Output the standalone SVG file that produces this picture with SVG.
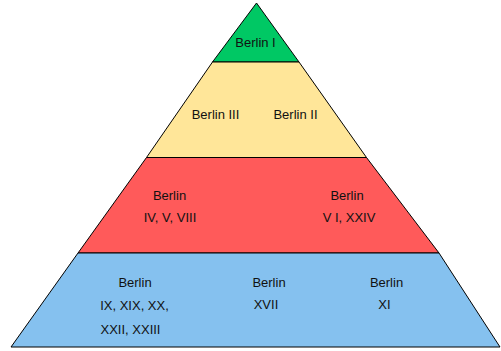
<svg xmlns="http://www.w3.org/2000/svg" width="501" height="351" viewBox="0 0 501 351">
<style>
.tier{stroke:#000;stroke-width:1;stroke-linejoin:miter}
text{font-family:"Liberation Sans",Arial,sans-serif;font-size:13px;fill:#111;text-anchor:middle}
</style>
<rect width="501" height="351" fill="#fff"/>
<g id="tier-green">
<polygon class="tier" fill="#00C864" points="256.5,3 299,62 212.5,62"/>
<text x="255.5" y="46.5">Berlin I</text>
</g>
<g id="tier-yellow">
<polygon class="tier" fill="#FFE699" points="212.5,62 299,62 366.5,157.5 146.5,157.5"/>
<text x="215.5" y="119">Berlin III</text>
<text x="295.5" y="119">Berlin II</text>
</g>
<g id="tier-red">
<polygon class="tier" fill="#FF5A5A" points="146.5,157.5 366.5,157.5 439,253 78,253"/>
<text x="169.5" y="199.5">Berlin</text>
<text x="170" y="221.5">IV, V, VIII</text>
<text x="347" y="199.5">Berlin</text>
<text x="349" y="221.5">V I, XXIV</text>
</g>
<g id="tier-blue">
<polygon class="tier" fill="#85C1EF" points="78,253 439,253 500,347 11,347"/>
<text x="135" y="286.5">Berlin</text>
<text x="134.5" y="310">IX, XIX, XX,</text>
<text x="130.5" y="334">XXII, XXIII</text>
<text x="269" y="286.5">Berlin</text>
<text x="266" y="309">XVII</text>
<text x="386.5" y="286.5">Berlin</text>
<text x="384.5" y="309">XI</text>
</g>
<g id="connectors"></g>
</svg>
